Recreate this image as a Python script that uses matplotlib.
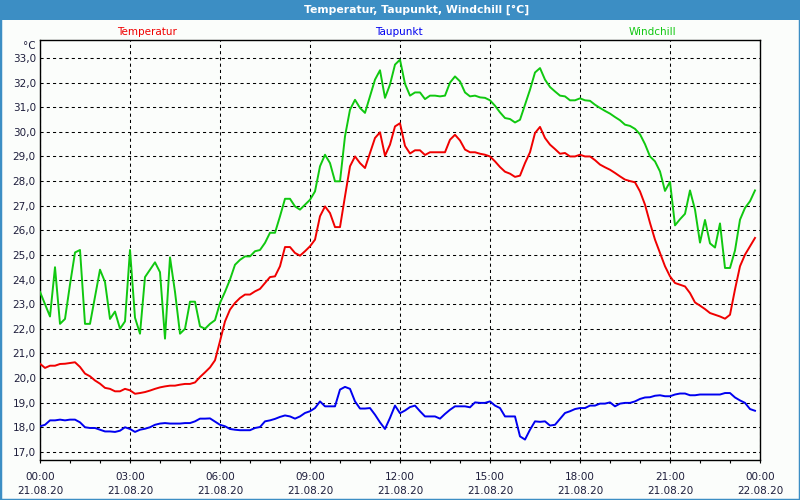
import numpy as np
import matplotlib
matplotlib.use("Agg")
import matplotlib.pyplot as plt
from matplotlib.patches import Rectangle
from matplotlib.ticker import FixedLocator, MultipleLocator

# ---- data (10-minute samples, 21.08.20 00:00 .. 23:50) ----
temperatur = [
    20.58, 20.41, 20.50, 20.50, 20.57, 20.58, 20.61, 20.64, 20.45, 20.18,
    20.07, 19.90, 19.77, 19.60, 19.56, 19.46, 19.46, 19.56, 19.50, 19.36,
    19.39, 19.43, 19.49, 19.56, 19.62, 19.66, 19.69, 19.69, 19.73, 19.76,
    19.76, 19.82, 20.04, 20.23, 20.43, 20.72, 21.50, 22.30, 22.78, 23.05,
    23.25, 23.39, 23.39, 23.52, 23.62, 23.86, 24.10, 24.13, 24.54, 25.32,
    25.32, 25.08, 24.97, 25.15, 25.35, 25.62, 26.57, 26.97, 26.70, 26.13,
    26.13, 27.38, 28.60, 29.00, 28.73, 28.53, 29.14, 29.75, 29.98, 29.03,
    29.48, 30.22, 30.35, 29.43, 29.12, 29.25, 29.25, 29.06, 29.17, 29.17,
    29.17, 29.17, 29.68, 29.88, 29.65, 29.28, 29.17, 29.17, 29.11, 29.07,
    29.00, 28.80, 28.57, 28.38, 28.30, 28.17, 28.22, 28.73, 29.17, 29.95,
    30.20, 29.75, 29.48, 29.30, 29.11, 29.14, 29.00, 29.00, 29.07, 29.00,
    29.00, 28.85, 28.67, 28.56, 28.46, 28.33, 28.19, 28.06, 28.00, 27.95,
    27.58, 27.04, 26.30, 25.62, 25.08, 24.54, 24.13, 23.86, 23.79, 23.72,
    23.45, 23.07, 22.94, 22.80, 22.64, 22.57, 22.50, 22.41, 22.57, 23.60,
    24.54, 25.01, 25.35, 25.69,
]
taupunkt = [
    18.04, 18.10, 18.28, 18.28, 18.31, 18.28, 18.31, 18.31, 18.20, 18.00,
    17.97, 17.97, 17.90, 17.83, 17.83, 17.81, 17.86, 18.00, 17.93, 17.81,
    17.90, 17.94, 18.00, 18.10, 18.15, 18.17, 18.15, 18.15, 18.15, 18.17,
    18.17, 18.24, 18.35, 18.35, 18.36, 18.23, 18.10, 18.04, 17.93, 17.90,
    17.88, 17.88, 17.88, 17.97, 18.01, 18.24, 18.28, 18.34, 18.42, 18.48,
    18.44, 18.35, 18.44, 18.58, 18.65, 18.78, 19.05, 18.85, 18.85, 18.85,
    19.53, 19.64, 19.56, 19.05, 18.76, 18.76, 18.78, 18.51, 18.20, 17.93,
    18.38, 18.88, 18.57, 18.68, 18.82, 18.88, 18.65, 18.44, 18.44, 18.44,
    18.35, 18.54, 18.71, 18.85, 18.85, 18.85, 18.81, 19.01, 18.99, 18.99,
    19.05, 18.88, 18.78, 18.44, 18.44, 18.44, 17.63, 17.50, 17.90, 18.24,
    18.22, 18.24, 18.07, 18.10, 18.34, 18.58, 18.65, 18.74, 18.78, 18.78,
    18.88, 18.88, 18.96, 18.96, 19.01, 18.85, 18.96, 18.99, 18.99, 19.05,
    19.15, 19.21, 19.22, 19.28, 19.30, 19.26, 19.26, 19.33, 19.37, 19.37,
    19.30, 19.30, 19.33, 19.33, 19.33, 19.33, 19.33, 19.39, 19.39, 19.21,
    19.09, 18.99, 18.74, 18.67,
]
windchill = [
    23.50, 23.00, 22.50, 24.50, 22.20, 22.40, 23.80, 25.10, 25.20, 22.20,
    22.20, 23.30, 24.40, 23.90, 22.40, 22.70, 22.00, 22.30, 25.20, 22.45,
    21.80, 24.10, 24.40, 24.70, 24.30, 21.60, 24.90, 23.50, 21.80, 22.00,
    23.10, 23.10, 22.10, 22.00, 22.20, 22.35, 23.05, 23.50, 24.00, 24.60,
    24.80, 24.94, 24.94, 25.15, 25.20, 25.49, 25.90, 25.90, 26.57, 27.28,
    27.28, 26.97, 26.84, 27.04, 27.24, 27.58, 28.60, 29.07, 28.73, 27.99,
    27.99, 29.82, 30.90, 31.30, 30.97, 30.77, 31.44, 32.12, 32.50, 31.38,
    31.92, 32.73, 32.93, 31.95, 31.47, 31.60, 31.60, 31.33, 31.47, 31.47,
    31.44, 31.47, 32.00, 32.25, 32.05, 31.60, 31.44, 31.47, 31.40, 31.38,
    31.28, 31.06, 30.79, 30.56, 30.52, 30.38, 30.49, 31.10, 31.71, 32.41,
    32.59, 32.12, 31.82, 31.64, 31.47, 31.44, 31.28, 31.28, 31.36, 31.28,
    31.26, 31.10, 30.97, 30.85, 30.74, 30.60, 30.47, 30.29, 30.24, 30.12,
    29.90, 29.50, 29.00, 28.80, 28.39, 27.60, 27.97, 26.20, 26.45, 26.67,
    27.62, 26.84, 25.50, 26.42, 25.47, 25.30, 26.28, 24.47, 24.47, 25.18,
    26.43, 26.91, 27.18, 27.62,
]
tick_times = ["00:00", "03:00", "06:00", "09:00", "12:00", "15:00", "18:00", "21:00", "00:00"]
tick_dates = ["21.08.20"] * 8 + ["22.08.20"]
y_values = list(range(17, 34))
series_names = ["Temperatur", "Taupunkt", "Windchill"]

hours = np.arange(len(temperatur)) / 6.0

# ---- style ----
BG = "#fbfdfb"
FRAME = "#3c8ec4"
TXT = "#1e1e3c"
C_T, C_D, C_W = "#f00000", "#0000f0", "#10c810"

plt.rcParams["font.family"] = ["DejaVu Sans"]

fig = plt.figure(figsize=(8, 5), dpi=100, facecolor=BG)
# title bar and window frame
fig.patches.append(Rectangle((0, 1 - 20 / 500), 1, 20 / 500, transform=fig.transFigure,
                             facecolor=FRAME, edgecolor="none", zorder=0))
fig.patches.append(Rectangle((0, 0), 1, 1, transform=fig.transFigure, fill=False,
                             edgecolor=FRAME, linewidth=2.5, zorder=5))
fig.text(417 / 800, 1 - 10 / 500, "Temperatur, Taupunkt, Windchill [°C]", color="white",
         fontsize=7.8, fontweight="bold", ha="center", va="center")

# series labels
for name, col, xp in zip(series_names, [C_T, C_D, C_W], [147, 399, 652]):
    fig.text(xp / 800, 1 - 32 / 500, name, color=col, fontsize=7.5, ha="center", va="center")
fig.text(36 / 800, 1 - 46 / 500, "°C", color=TXT, fontsize=7.5, ha="right", va="center")

ax = fig.add_axes([40 / 800, 40 / 500, 720 / 800, 420 / 500])
ax.set_facecolor(BG)
ax.set_xlim(0, 24)
ax.set_ylim(16.67, 33.73)

ax.plot(hours, windchill, color=C_W, lw=1.4, zorder=3)
ax.plot(hours, temperatur, color=C_T, lw=1.4, zorder=3)
ax.plot(hours, taupunkt, color=C_D, lw=1.4, zorder=3)

ax.xaxis.set_major_locator(FixedLocator(np.arange(0, 25, 3)))
ax.xaxis.set_minor_locator(MultipleLocator(1))
ax.set_xticklabels([f"{t}\n{d}" for t, d in zip(tick_times, tick_dates)],
                   fontsize=7.5, color=TXT, linespacing=1.55)
ax.set_yticks(y_values)
ax.set_yticklabels([f"{v},0" for v in y_values], fontsize=7.5, color=TXT)

ax.tick_params(axis="x", which="both", direction="out", length=2.5, width=0.8,
               color="black", pad=6)
ax.tick_params(axis="y", which="both", length=0, pad=3)

ax.grid(True, which="major", color="black", linestyle=(0, (3, 3)), linewidth=0.75, zorder=1)
ax.set_axisbelow(True)
for s in ax.spines.values():
    s.set_color("black")
    s.set_linewidth(1.0)

fig.savefig("out.png", dpi=100, facecolor=BG)
